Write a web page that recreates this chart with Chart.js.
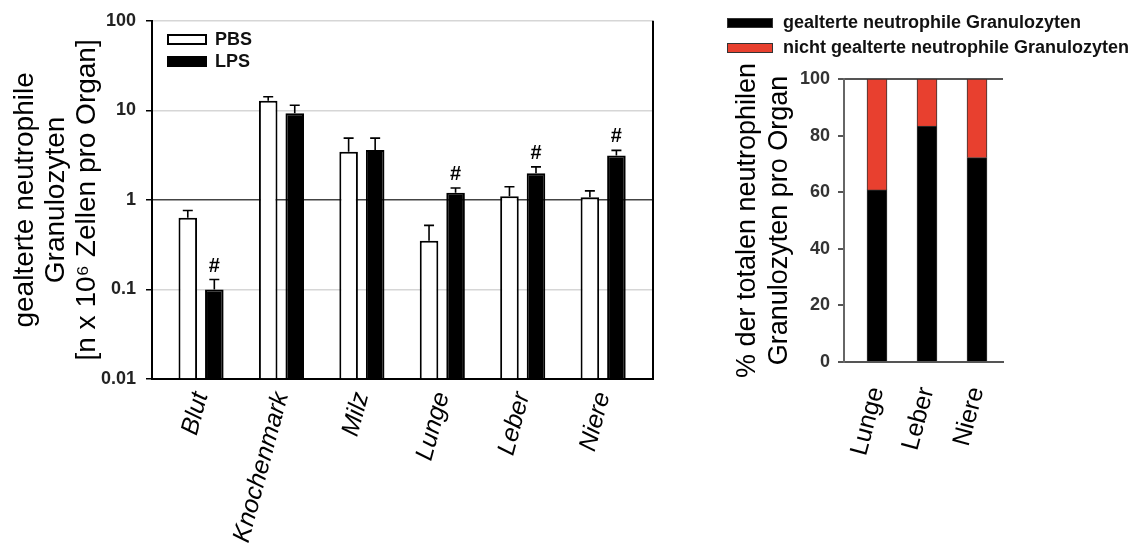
<!DOCTYPE html>
<html lang="de">
<head>
    <meta charset="UTF-8">
    <title>Gealterte neutrophile Granulozyten</title>
    <script src="https://cdn.jsdelivr.net/npm/chart.js"></script>
    <style>
        body {
            margin: 0;
            background: #fff;
            font-family: "Liberation Sans", Arial, sans-serif;
        }
        #wrap {
            position: relative;
            width: 1141px;
            height: 547px;
        }
        #leftChart {
            position: absolute;
            left: 0;
            top: 0;
        }
        #rightChart {
            position: absolute;
            left: 700px;
            top: 0;
        }
        .legend {
            position: absolute;
            font-weight: bold;
            color: #111;
        }
        .legend .row {
            display: flex;
            align-items: center;
            white-space: nowrap;
        }
        .swatch {
            display: inline-block;
            box-sizing: border-box;
        }
        #leftLegend { left: 167px; top: 28px; font-size: 18px; }
        #leftLegend .row { height: 22px; }
        #leftLegend .swatch { width: 40px; height: 11px; border: 2px solid #000; margin-right: 8px; }
        #rightLegend { left: 727px; top: 10px; font-size: 18px; }
        #rightLegend .row { height: 25px; }
        #rightLegend .swatch { width: 46px; height: 10px; border: 1.5px solid #333; margin-right: 10px; }
    </style>
</head>
<body>
<div id="wrap">
    <canvas id="leftChart" width="690" height="547"></canvas>
    <canvas id="rightChart" width="441" height="547"></canvas>

    <div class="legend" id="leftLegend">
        <div class="row"><span class="swatch" style="background:#fff"></span>PBS</div>
        <div class="row"><span class="swatch" style="background:#000"></span>LPS</div>
    </div>
    <div class="legend" id="rightLegend">
        <div class="row"><span class="swatch" style="background:#000"></span>gealterte neutrophile Granulozyten</div>
        <div class="row"><span class="swatch" style="background:#e8402f"></span>nicht gealterte neutrophile Granulozyten</div>
    </div>
</div>

<script>
    // left panel: aged neutrophils per organ (log scale), mean and upper end of error bar
    const organs = ['Blut', 'Knochenmark', 'Milz', 'Lunge', 'Leber', 'Niere'];
    const pbsMean = [0.63, 12.8, 3.45, 0.35, 1.10, 1.07];
    const pbsErrTop = [0.76, 14.2, 4.9, 0.52, 1.40, 1.26];
    const lpsMean = [0.10, 9.3, 3.6, 1.20, 1.98, 3.14];
    const lpsErrTop = [0.129, 11.4, 4.9, 1.36, 2.34, 3.57];
    const lpsSig = [true, false, false, true, true, true];
    const logTicks = [0.01, 0.1, 1, 10, 100];

    // right panel: share of aged / non-aged neutrophils
    const shareOrgans = ['Lunge', 'Leber', 'Niere'];
    const agedPct = [60.8, 83.4, 72.2];
    const youngPct = [39.2, 16.6, 27.8];
    const pctTicks = [0, 20, 40, 60, 80, 100];

    Chart.defaults.font.family = '"Liberation Sans", Arial, sans-serif';
    Chart.defaults.color = '#000';

    // error bars, # marks and the right frame line of the left panel
    const errorBars = {
        id: 'errorBars',
        afterDatasetsDraw(chart) {
            const ctx = chart.ctx;
            const yScale = chart.scales.y;
            ctx.save();
            ctx.strokeStyle = '#000';
            ctx.lineWidth = 1.6;
            chart.data.datasets.forEach((ds, di) => {
                if (!ds.errTop) return;
                chart.getDatasetMeta(di).data.forEach((bar, i) => {
                    const top = yScale.getPixelForValue(ds.errTop[i]);
                    ctx.beginPath();
                    ctx.moveTo(bar.x, bar.y);
                    ctx.lineTo(bar.x, top);
                    ctx.moveTo(bar.x - 5, top);
                    ctx.lineTo(bar.x + 5, top);
                    ctx.stroke();
                    if (ds.sig && ds.sig[i]) {
                        ctx.font = 'bold 20px "Liberation Sans", Arial, sans-serif';
                        ctx.fillStyle = '#000';
                        ctx.textAlign = 'center';
                        ctx.textBaseline = 'alphabetic';
                        ctx.fillText('#', bar.x, top - 8);
                    }
                });
            });
            const a = chart.chartArea;
            ctx.lineWidth = 2;
            ctx.beginPath();
            ctx.moveTo(a.right, a.top);
            ctx.lineTo(a.right, a.bottom);
            ctx.stroke();
            ctx.restore();
        }
    };

    new Chart(document.getElementById('leftChart'), {
        type: 'bar',
        data: {
            datasets: [
                {
                    label: 'PBS',
                    data: organs.map((o, i) => ({x: i, y: pbsMean[i]})),
                    backgroundColor: '#fff',
                    borderColor: '#000',
                    borderWidth: 2,
                    base: 0.01,
                    errTop: pbsErrTop
                },
                {
                    label: 'LPS',
                    data: organs.map((o, i) => ({x: i, y: lpsMean[i]})),
                    backgroundColor: '#000',
                    borderColor: '#000',
                    borderWidth: 2,
                    base: 0.01,
                    errTop: lpsErrTop,
                    sig: lpsSig
                }
            ]
        },
        options: {
            responsive: false,
            animation: false,
            categoryPercentage: 0.66,
            barPercentage: 0.7,
            layout: {padding: {top: 20, right: 37, left: 0, bottom: 0}},
            plugins: {legend: {display: false}, tooltip: {enabled: false}},
            scales: {
                x: {
                    type: 'linear',
                    min: -0.61,
                    max: 5.62,
                    offset: false,
                    afterBuildTicks: s => { s.ticks = organs.map((o, i) => ({value: i})); },
                    afterFit: s => { s.height = 168; },
                    ticks: {
                        callback: v => organs[v],
                        autoSkip: false,
                        minRotation: 75,
                        maxRotation: 75,
                        padding: 10,
                        color: '#000',
                        font: {size: 25, style: 'italic'}
                    },
                    grid: {display: true, offset: false, drawOnChartArea: false, drawTicks: false},
                    border: {color: '#000', width: 2}
                },
                y: {
                    type: 'logarithmic',
                    min: 0.01,
                    max: 100,
                    afterBuildTicks: s => { s.ticks = logTicks.map(v => ({value: v})); },
                    afterFit: s => { s.width = 152; },
                    ticks: {
                        callback: v => String(v),
                        color: '#222',
                        font: {size: 18, weight: 'bold'},
                        padding: 10
                    },
                    grid: {
                        color: c => (c.tick && c.tick.value === 1) ? '#444' : '#d6d6d6',
                        lineWidth: 1.5,
                        tickColor: '#000',
                        tickLength: 6
                    },
                    border: {color: '#000', width: 2},
                    title: {
                        display: true,
                        text: ['gealterte neutrophile', 'Granulozyten', '[n x 10⁶ Zellen pro Organ]'],
                        color: '#000',
                        font: {size: 28, lineHeight: 1.107},
                        padding: {top: 10, bottom: 0}
                    }
                }
            }
        },
        plugins: [errorBars]
    });

    new Chart(document.getElementById('rightChart'), {
        type: 'bar',
        data: {
            datasets: [
                {
                    label: 'gealterte neutrophile Granulozyten',
                    data: shareOrgans.map((o, i) => ({x: i, y: agedPct[i]})),
                    backgroundColor: '#000',
                    borderColor: '#333',
                    borderWidth: 1
                },
                {
                    label: 'nicht gealterte neutrophile Granulozyten',
                    data: shareOrgans.map((o, i) => ({x: i, y: youngPct[i]})),
                    backgroundColor: '#e8402f',
                    borderColor: '#333',
                    borderWidth: 1
                }
            ]
        },
        options: {
            responsive: false,
            animation: false,
            barThickness: 20,
            layout: {padding: {top: 79, right: 138, left: 0, bottom: 0}},
            plugins: {legend: {display: false}, tooltip: {enabled: false}},
            scales: {
                x: {
                    type: 'linear',
                    stacked: true,
                    min: -0.66,
                    max: 2.52,
                    offset: false,
                    afterBuildTicks: s => { s.ticks = shareOrgans.map((o, i) => ({value: i})); },
                    afterFit: s => { s.height = 185; },
                    ticks: {
                        callback: v => shareOrgans[v],
                        autoSkip: false,
                        minRotation: 75,
                        maxRotation: 75,
                        padding: 22,
                        color: '#000',
                        font: {size: 25}
                    },
                    grid: {display: true, offset: false, drawOnChartArea: false, drawTicks: false},
                    border: {color: '#555', width: 2}
                },
                y: {
                    stacked: true,
                    min: 0,
                    max: 100,
                    afterBuildTicks: s => { s.ticks = pctTicks.map(v => ({value: v})); },
                    afterFit: s => { s.width = 144; },
                    ticks: {
                        color: '#333',
                        font: {size: 18, weight: 'bold'},
                        padding: 8
                    },
                    grid: {
                        color: c => (c.tick && c.tick.value === 100) ? '#555' : 'rgba(0,0,0,0)',
                        lineWidth: 2,
                        tickColor: '#555',
                        tickLength: 6
                    },
                    border: {color: '#666', width: 2},
                    title: {
                        display: true,
                        text: ['% der totalen neutrophilen', 'Granulozyten pro Organ'],
                        color: '#000',
                        font: {size: 27, lineHeight: 1.15},
                        padding: {top: 32.5, bottom: 0}
                    }
                }
            }
        }
    });
</script>
</body>
</html>
